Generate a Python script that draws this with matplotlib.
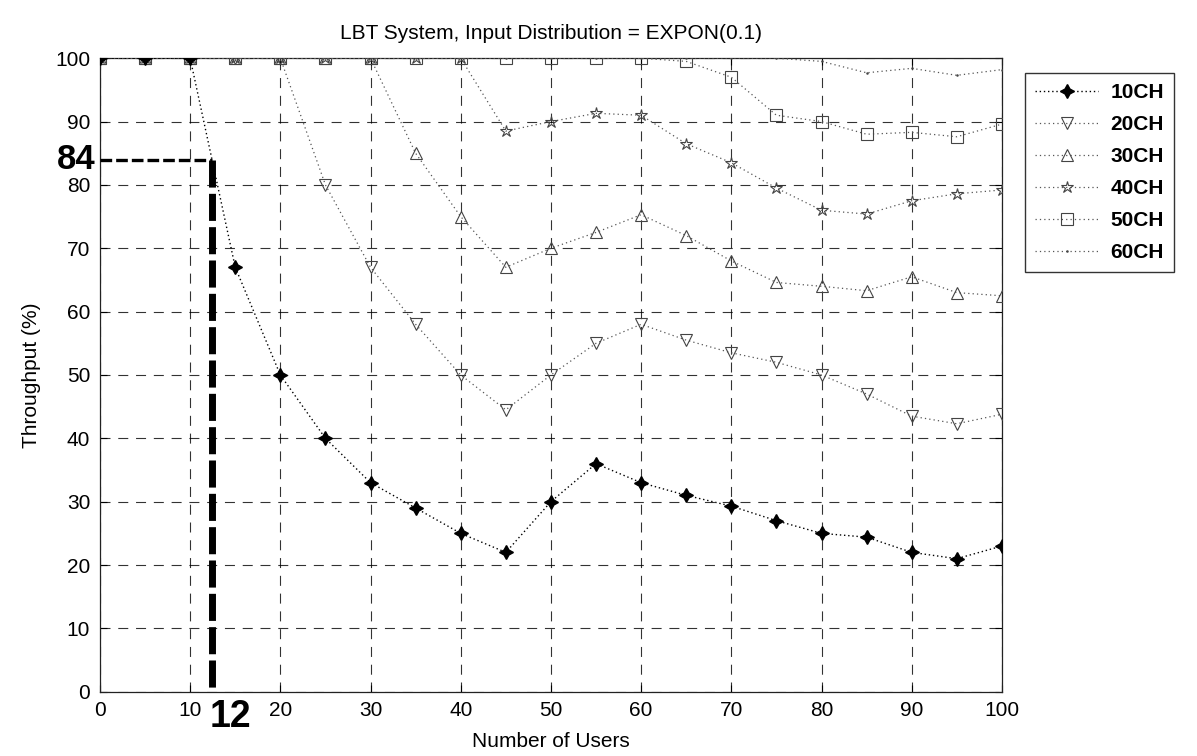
import matplotlib
matplotlib.use("Agg")
import matplotlib.pyplot as plt

plt.rcParams['font.family'] = ['Liberation Sans', 'DejaVu Sans']

# number of users
users = [0, 5, 10, 15, 20, 25, 30, 35, 40, 45, 50, 55, 60, 65, 70, 75, 80, 85, 90, 95, 100]

# throughput (%) per channel count
ch10 = [100, 100, 100, 67, 50, 40, 33, 29, 25, 22, 30, 36, 33, 31, 29.3, 27, 25, 24.4, 22, 21, 23]
ch20 = [100, 100, 100, 100, 100, 80, 67, 58, 50, 44.5, 50, 55, 58, 55.5, 53.5, 52, 50, 47, 43.5, 42.3, 43.8]
ch30 = [100, 100, 100, 100, 100, 100, 100, 85, 75, 67, 70, 72.5, 75.3, 72, 68, 64.6, 64, 63.3, 65.5, 63, 62.5]
ch40 = [100, 100, 100, 100, 100, 100, 100, 100, 100, 88.5, 90, 91.3, 91, 86.5, 83.5, 79.5, 76, 75.4, 77.5, 78.6, 79.2]
ch50 = [100, 100, 100, 100, 100, 100, 100, 100, 100, 100, 100, 100, 100, 99.5, 97, 91, 90, 88, 88.3, 87.6, 89.6]
ch60 = [100, 100, 100, 100, 100, 100, 100, 100, 100, 100, 100, 100, 100, 100, 100, 100, 99.5, 97.7, 98.4, 97.3, 98.2]

series = [ch10, ch20, ch30, ch40, ch50, ch60]
labels = ['10CH', '20CH', '30CH', '40CH', '50CH', '60CH']
markers = [(4, 1, 0), 'v', '^', '*', 's', '.']
ticks = [0, 10, 20, 30, 40, 50, 60, 70, 80, 90, 100]

# marked point
mark_x = 12.4
mark_y = 84

fig = plt.figure(figsize=(11.97, 7.56), dpi=100)
ax = fig.add_axes([0.0835, 0.085, 0.7535, 0.838])

for i, (vals, lab, mk) in enumerate(zip(series, labels, markers)):
    if i == 0:
        ax.plot(users, vals, linestyle=(0, (1, 2)), color='black', lw=1.0,
                marker=mk, markersize=10, markerfacecolor='black',
                markeredgecolor='black', label=lab, zorder=4)
    else:
        ax.plot(users, vals, linestyle=(0, (1, 2.5)), color='#555555', lw=0.9,
                marker=mk, markersize=9 if mk != '.' else 2,
                markerfacecolor='none', markeredgecolor='#444444',
                markeredgewidth=0.8, label=lab, zorder=3)

ax.set_xlim(0, 100)
ax.set_ylim(0, 100)
ax.set_xticks(ticks)
ax.set_yticks(ticks)
ax.tick_params(direction='in', length=5, labelsize=15, top=True, right=True, pad=7)
ax.grid(True, color='black', linestyle=(0, (9, 7)), lw=0.8, alpha=0.8)
for s in ax.spines.values():
    s.set_linewidth(0.9)
    s.set_color('#222222')

ax.set_title('LBT System, Input Distribution = EXPON(0.1)', fontsize=15, pad=14)
ax.set_xlabel('Number of Users', fontsize=15, labelpad=8)
ax.set_ylabel('Throughput (%)', fontsize=15, labelpad=10)

# the hand-drawn marking of the 84 % point
ax.plot([0, mark_x], [mark_y, mark_y], color='black', lw=2.4, dashes=(3.5, 1.2),
        clip_on=False, zorder=6)
ax.plot([mark_x, mark_x], [mark_y, 0], color='black', lw=5, dashes=(3.9, 0.9),
        clip_on=False, zorder=6)
ax.text(-0.5, mark_y, '84', ha='right', va='center', fontsize=25,
        fontweight='bold', clip_on=False)
ax.text(mark_x - 0.2, -1.2, '12', ha='left', va='top', fontsize=27,
        fontweight='bold', clip_on=False)

leg = ax.legend(loc='upper left', bbox_to_anchor=(1025 / 1197, 1 - 73 / 756),
                bbox_transform=fig.transFigure, fontsize=15, frameon=True,
                fancybox=False, edgecolor='black', borderpad=0.5,
                labelspacing=0.62, handlelength=3.0, handletextpad=0.6,
                borderaxespad=0)
leg.get_frame().set_linewidth(1.0)
for t in leg.get_texts():
    t.set_fontweight('bold')

fig.savefig('out.png', dpi=100)
